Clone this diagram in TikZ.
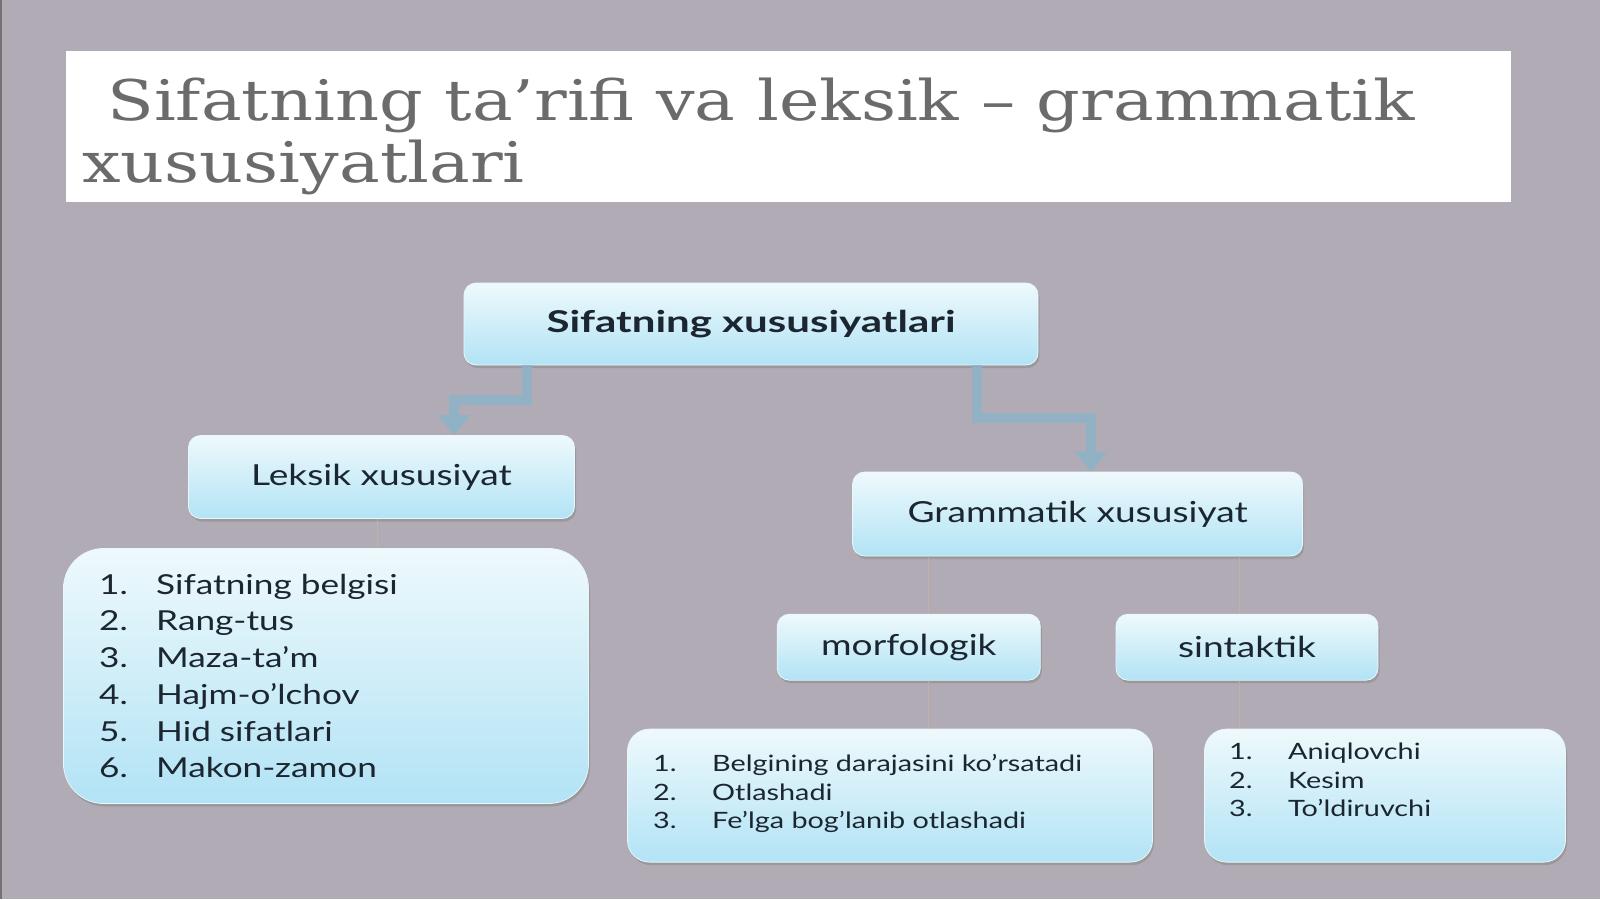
\documentclass[tikz,border=0pt]{standalone}
\usepackage{fontspec}
\setsansfont{Lato}
\newfontfamily\titlefont{DejaVu Serif}
\usetikzlibrary{shadows,arrows.meta,calc}
\definecolor{bg}{HTML}{B1ABB5}
\definecolor{boxtop}{HTML}{EEF9FC}
\definecolor{boxbot}{HTML}{B2E3F5}
\definecolor{ink}{HTML}{1B2631}
\definecolor{arrowc}{HTML}{8DB3C7}
\definecolor{thin}{HTML}{C9B39C}
\definecolor{titlec}{HTML}{6B6B6B}
\tikzset{
  cbox/.style={rounded corners=12pt, top color=boxtop, bottom color=boxbot,
    draw=white!70!boxbot, line width=0.8pt, text=ink, font=\sffamily,
    drop shadow={opacity=0.45, shadow xshift=1.5pt, shadow yshift=-3pt},
    inner sep=0pt},
  bigarrow/.style={draw=arrowc, line width=10pt, opacity=0.85,
    -{Triangle[width=32pt,length=20pt]}},
  thinline/.style={draw=thin, line width=1pt, opacity=0.7},
  listtxt/.style={text=ink, font=\sffamily, align=left, inner sep=0pt, anchor=west}
}
\newcommand{\sx}[1]{\scalebox{1.28}[1]{#1}}
\newcommand{\itm}[3]{\makebox[#1][l]{#2}\sx{#3}}
\begin{document}
\begin{tikzpicture}[x=1pt,y=-1pt]
\fill[bg] (0,0) rectangle (1600,899);
\useasboundingbox (0,0) rectangle (1600,899);
\fill[black!55] (0,0) rectangle (2,899);
% title
\node (titlebox) [fill=white, minimum width=1445pt, minimum height=151pt, inner sep=0pt, anchor=north west] at (66,51) {};
\node (t1) [anchor=base west, inner sep=0pt, text=titlec, font=\titlefont\fontsize{56}{60}\selectfont] at (107,120) {\scalebox{1.22}[1]{Sifatning ta’rifi va leksik – grammatik}};
\node (t2) [anchor=base west, inner sep=0pt, text=titlec, font=\titlefont\fontsize{56}{60}\selectfont] at (82,182) {\scalebox{1.22}[1]{xususiyatlari}};
% boxes
\node (top) [cbox, minimum width=574pt, minimum height=82pt, font=\sffamily\bfseries\fontsize{30}{36}\selectfont] at (751,324) {\scalebox{1.40}[1]{Sifatning xususiyatlari}};
\node (lek) [cbox, minimum width=386pt, minimum height=83pt, font=\sffamily\fontsize{29}{36}\selectfont] at (381.5,477) {\sx{Leksik xususiyat}};
\node (gram) [cbox, minimum width=450pt, minimum height=84pt, font=\sffamily\fontsize{29}{36}\selectfont] at (1077.6,514) {\sx{Grammatik xususiyat}};
\node (morf) [cbox, minimum width=263pt, minimum height=66pt, font=\sffamily\fontsize{29}{36}\selectfont] at (908.8,647.2) {\sx{morfologik}};
\node (sint) [cbox, minimum width=262pt, minimum height=66pt, font=\sffamily\fontsize{29}{36}\selectfont] at (1247,647.2) {\sx{sintaktik}};
\node (leklist) [cbox, rounded corners=40pt, minimum width=525pt, minimum height=255pt] at (326,676) {};
\node (morflist) [cbox, rounded corners=22pt, minimum width=525pt, minimum height=133pt] at (890,795.6) {};
\node (sintlist) [cbox, rounded corners=22pt, minimum width=361pt, minimum height=133pt] at (1385,795.6) {};
% list texts
\node (lektxt) [listtxt, font=\sffamily\fontsize{27.5}{36.7}\selectfont] at (99,676) {%
\itm{57pt}{\sx{1.}}{Sifatning belgisi}\\
\itm{57pt}{\sx{2.}}{Rang-tus}\\
\itm{57pt}{\sx{3.}}{Maza-ta’m}\\
\itm{57pt}{\sx{4.}}{Hajm-o’lchov}\\
\itm{57pt}{\sx{5.}}{Hid sifatlari}\\
\itm{57pt}{\sx{6.}}{Makon-zamon}};
\node (morftxt) [listtxt, font=\sffamily\fontsize{22.5}{28.5}\selectfont] at (653,793.5) {%
\itm{59pt}{\sx{1.}}{Belgining darajasini ko’rsatadi}\\
\itm{59pt}{\sx{2.}}{Otlashadi}\\
\itm{59pt}{\sx{3.}}{Fe’lga bog’lanib otlashadi}};
\node (sinttxt) [listtxt, font=\sffamily\fontsize{22.5}{28.5}\selectfont] at (1229,780) {%
\itm{59pt}{\sx{1.}}{Aniqlovchi}\\
\itm{59pt}{\sx{2.}}{Kesim}\\
\itm{59pt}{\sx{3.}}{To’ldiruvchi}};
% connectors
\coordinate (la) at (527,365);
\coordinate (ra) at (977,365);
\draw[bigarrow] (top.south -| la) |- (454,400) -- (lek.north -| 454,0);
\draw[bigarrow] (top.south -| ra) |- (1091,418) -- (gram.north -| 1091,0);
\draw[thinline] (lek.south -| 377,0) -- (leklist.north -| 377,0);
\draw[thinline] (gram.south -| 928,0) -- (morf.north -| 928,0);
\draw[thinline] (gram.south -| 1239,0) -- (sint.north -| 1239,0);
\draw[thinline] (morf.south -| 928,0) -- (morflist.north -| 928,0);
\draw[thinline] (sint.south -| 1239,0) -- (sintlist.north -| 1239,0);
\end{tikzpicture}
\end{document}
